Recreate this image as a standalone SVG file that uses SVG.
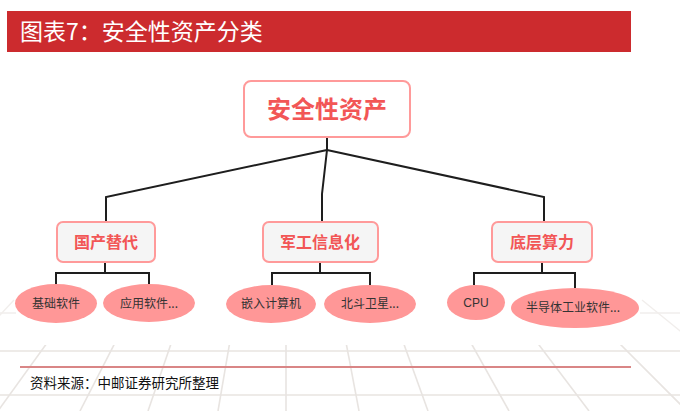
<svg xmlns="http://www.w3.org/2000/svg" width="680" height="411" viewBox="0 0 680 411">
  <style>
    .cjk { font-family: "Noto Sans CJK SC", "Liberation Sans", sans-serif; }
    .title { fill: #ffffff; font-size: 23px; }
    .root-box { fill: #ffffff; stroke: #ff9a9a; stroke-width: 2; }
    .mid-box { fill: #f5f5f5; stroke: #ff9a9a; stroke-width: 2; }
    .root-text { fill: #f25656; font-size: 24px; font-weight: bold; text-anchor: middle; }
    .mid-text { fill: #f25656; font-size: 16px; font-weight: bold; text-anchor: middle; }
    .leaf { fill: #ff9797; }
    .leaf-text { fill: #333333; font-size: 12px; text-anchor: middle; }
    .link { fill: none; stroke: #1e1e1e; stroke-width: 2; }
    .grid { stroke: #e8e4e1; stroke-width: 1.6; fill: none; }
    .grid-edge { stroke: #f1eeec; stroke-width: 1.4; fill: none; }
    .source { fill: #111111; font-size: 13.5px; }
  </style>
  <defs>
    <clipPath id="floorClip">
      <rect x="0" y="345" width="680" height="66"/>
    </clipPath>
    <clipPath id="edgeClip">
      <rect x="0" y="292" width="16" height="53"/>
      <rect x="640" y="292" width="40" height="53"/>
    </clipPath>
    <!-- floor grid: horizontals plus lines running to a vanishing point above -->
    <g id="gridLines">
      <line x1="0" y1="313" x2="680" y2="313"/>
      <line x1="0" y1="351" x2="680" y2="351"/>
      <line x1="0" y1="395" x2="680" y2="395"/>
      <line x1="14" y1="300" x2="-90" y2="411"/>
      <line x1="78" y1="300" x2="-2" y2="411"/>
      <line x1="137" y1="300" x2="80" y2="411"/>
      <line x1="186" y1="300" x2="148" y2="411"/>
      <line x1="237" y1="300" x2="218" y2="411"/>
      <line x1="286" y1="300" x2="286" y2="411"/>
      <line x1="338" y1="300" x2="359" y2="411"/>
      <line x1="388" y1="300" x2="428" y2="411"/>
      <line x1="447" y1="300" x2="509" y2="411"/>
      <line x1="505" y1="300" x2="589" y2="411"/>
      <line x1="576" y1="300" x2="687" y2="411"/>
      <line x1="642" y1="300" x2="779" y2="411"/>
    </g>
  </defs>

  <rect x="0" y="0" width="680" height="411" fill="#ffffff"/>

  <g class="grid" clip-path="url(#floorClip)">
    <use href="#gridLines"/>
  </g>
  <g class="grid-edge" clip-path="url(#edgeClip)">
    <use href="#gridLines"/>
  </g>

  <!-- header bar -->
  <g id="header">
    <rect x="7" y="11" width="624" height="41" fill="#cc2b2e"/>
    <text class="cjk title" x="20" y="40">图表7：安全性资产分类</text>
  </g>

  <!-- connectors -->
  <g id="connectors">
    <polyline class="link" points="327,138 327,150"/>
    <polyline class="link" points="327,150 106,197 106,222"/>
    <polyline class="link" points="327,150 322,194 322,222"/>
    <polyline class="link" points="327,150 544,197 544,222"/>

    <polyline class="link" points="105,263 105,273"/>
    <polyline class="link" points="56,285 56,273 149,273 149,285"/>

    <polyline class="link" points="320,263 320,273"/>
    <polyline class="link" points="272,285 272,273 370,273 370,285"/>

    <polyline class="link" points="542,263 542,273"/>
    <polyline class="link" points="474,285 474,273 575,273 575,288"/>
  </g>

  <!-- root -->
  <g id="node-root">
    <rect class="root-box" x="244" y="81" width="166" height="56" rx="7"/>
    <text class="cjk root-text" x="327" y="118">安全性资产</text>
  </g>

  <!-- second level -->
  <g id="node-domestic">
    <rect class="mid-box" x="57" y="222" width="98" height="40" rx="6"/>
    <text class="cjk mid-text" x="106" y="248">国产替代</text>
  </g>
  <g id="node-military">
    <rect class="mid-box" x="263" y="222" width="115" height="40" rx="6"/>
    <text class="cjk mid-text" x="320" y="248">军工信息化</text>
  </g>
  <g id="node-compute">
    <rect class="mid-box" x="492" y="222" width="100" height="40" rx="6"/>
    <text class="cjk mid-text" x="542" y="248">底层算力</text>
  </g>

  <!-- leaves -->
  <g id="leaf-base-software">
    <ellipse class="leaf" cx="56" cy="303.5" rx="41" ry="19.5"/>
    <text class="cjk leaf-text" x="56" y="308">基础软件</text>
  </g>
  <g id="leaf-app-software">
    <ellipse class="leaf" cx="149" cy="303" rx="46" ry="19"/>
    <text class="cjk leaf-text" x="149" y="308">应用软件...</text>
  </g>
  <g id="leaf-embedded">
    <ellipse class="leaf" cx="271" cy="304" rx="45" ry="19"/>
    <text class="cjk leaf-text" x="271" y="308">嵌入计算机</text>
  </g>
  <g id="leaf-beidou">
    <ellipse class="leaf" cx="370" cy="304" rx="46" ry="19"/>
    <text class="cjk leaf-text" x="370" y="308">北斗卫星...</text>
  </g>
  <g id="leaf-cpu">
    <ellipse class="leaf" cx="476" cy="302.5" rx="29" ry="17.5"/>
    <text class="leaf-text" x="476" y="307" font-family="Liberation Sans, sans-serif">CPU</text>
  </g>
  <g id="leaf-semiconductor">
    <ellipse class="leaf" cx="575" cy="308" rx="64" ry="20"/>
    <text class="cjk leaf-text" x="573" y="312">半导体工业软件...</text>
  </g>

  <!-- footer -->
  <g id="footer">
    <line x1="20" y1="367" x2="631" y2="367" stroke="#d98686" stroke-width="2"/>
    <text class="cjk source" x="30" y="388">资料来源：中邮证券研究所整理</text>
  </g>
</svg>
